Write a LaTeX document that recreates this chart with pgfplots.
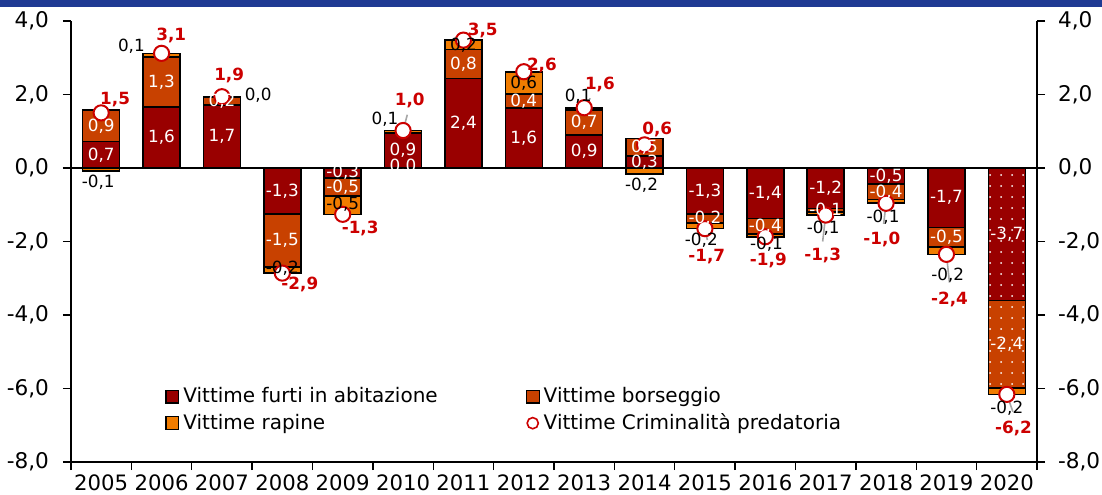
\documentclass[border=0pt]{standalone}
\usepackage{fontspec}
\setmainfont{DejaVu Sans}
\usepackage{pgfplots}
\usepackage{pgfplotstable}
\pgfplotsset{compat=1.18}
\usetikzlibrary{patterns.meta}
\definecolor{Furti}{HTML}{990000}
\definecolor{Borseggio}{HTML}{C84100}
\definecolor{Rapine}{HTML}{F07C00}
\definecolor{Totale}{HTML}{CC0000}
\definecolor{Band}{HTML}{1F3A93}
\definecolor{Leader}{HTML}{A6A6A6}

% positive and negative parts kept apart, so that they stack as in the source
\pgfplotstableread{
x  pF   pB   pR   nF    nB    nR    dF    dB    tot
0  0.72 0.86 0.00 0.00  0.00  -0.08 0     0     1.50
1  1.66 1.36 0.10 0.00  0.00  0.00  0     0     3.12
2  1.72 0.20 0.02 0.00  0.00  0.00  0     0     1.94
3  0.00 0.00 0.00 -1.25 -1.45 -0.16 0     0     -2.86
4  0.00 0.00 0.00 -0.27 -0.49 -0.50 0     0     -1.26
5  0.95 0.00 0.07 0.00  0.00  0.00  0     0     1.02
6  2.44 0.79 0.25 0.00  0.00  0.00  0     0     3.48
7  1.64 0.38 0.60 0.00  0.00  0.00  0     0     2.62
8  0.90 0.68 0.06 0.00  0.00  0.00  0     0     1.64
9  0.32 0.48 0.00 0.00  0.00  -0.17 0     0     0.63
10 0.00 0.00 0.00 -1.25 -0.24 -0.16 0     0     -1.65
11 0.00 0.00 0.00 -1.37 -0.43 -0.07 0     0     -1.87
12 0.00 0.00 0.00 -1.10 -0.10 -0.08 0     0     -1.28
13 0.00 0.00 0.00 -0.44 -0.42 -0.10 0     0     -0.96
14 0.00 0.00 0.00 -1.62 -0.53 -0.20 0     0     -2.35
15 0.00 0.00 0.00 -3.60 -2.38 -0.18 -3.60 -2.38 -6.16
}\bars

% labels inside the bars
\pgfplotstableread{
x  y      t
0  0.36   0,7
0  1.15   0,9
1  0.83   1,6
1  2.34   1,3
2  0.86   1,7
2  1.82   0,2
3  -0.625 -1,3
3  -1.975 -1,5
4  -0.12  -0,3
4  -0.52  -0,5
5  0.48   0,9
5  0.05   0,0
6  1.22   2,4
6  2.835  0,8
7  0.82   1,6
7  1.83   0,4
8  0.45   0,9
8  1.24   0,7
9  0.16   0,3
9  0.56   0,5
10 -0.625 -1,3
10 -1.37  -0,2
11 -0.685 -1,4
11 -1.585 -0,4
12 -0.55  -1,2
12 -1.15  -0,1
13 -0.22  -0,5
13 -0.65  -0,4
14 -0.81  -1,7
14 -1.885 -0,5
15 -1.80  -3,7
15 -4.79  -2,4
}\inlabels

% rapine labels
\pgfplotstableread{
x     y     t
-0.05 -0.38 -0,1
0.50  3.30  0,1
2.60  1.99  0,0
3.00  -2.72 -0,2
4.00  -0.99 -0,5
4.70  1.33  0,1
6.00  3.35  0,2
7.00  2.30  0,6
7.90  1.94  0,1
8.95  -0.46 -0,2
9.94  -1.97 -0,2
11.02 -2.08 -0,1
11.96 -1.64 -0,1
12.95 -1.34 -0,1
14.02 -2.91 -0,2
15.00 -6.54 -0,2
}\rplabels

% total labels
\pgfplotstableread{
x     y     t
0.23  1.85  1,5
1.16  3.62  3,1
2.12  2.53  1,9
3.29  -3.18 -2,9
4.29  -1.64 -1,3
5.11  1.85  1,0
6.32  3.73  3,5
7.30  2.80  2,6
8.26  2.26  1,6
9.21  1.05  0,6
10.03 -2.41 -1,7
11.05 -2.52 -1,9
11.95 -2.39 -1,3
12.93 -1.94 -1,0
14.05 -3.57 -2,4
15.11 -7.08 -6,2
}\totlabels

\pgfplotsset{
  base/.style={
    scale only axis, width=483pt, height=220.5pt,
    at={(35.5pt,16pt)}, anchor=south west,
    xmin=-0.5, xmax=15.5, ymin=-8, ymax=4,
  },
  seg/.style={draw=black, line width=0.8pt},
  ylabs/.style={
    ytick={-8,-6,...,4},
    y tick label style={font=\fontsize{10.8}{13}\selectfont},
    yticklabel style={/pgf/number format/fixed, /pgf/number format/fixed zerofill,
      /pgf/number format/precision=1, /pgf/number format/use comma,
      /pgf/number format/assume math mode=true},
  },
}

\begin{document}
\begin{tikzpicture}
\useasboundingbox (0,0) rectangle (551pt,247pt);
\fill[Band] (0,243.5pt) rectangle (551pt,247pt);

% positive stack + frame
\begin{axis}[base, ylabs,
  ybar stacked, bar width=18.5pt,
  axis y line*=left, axis x line*=bottom,
  axis line style={black, line width=0.7pt},
  tick style={black, line width=0.7pt},
  tick align=outside, major tick length=4pt,
  yticklabel style={xshift=-3.5pt},
  xtick={-0.5,0.5,...,15.5}, xticklabels={},
  extra x ticks={0,...,15},
  extra x tick labels={2005,2006,2007,2008,2009,2010,2011,2012,2013,2014,2015,2016,2017,2018,2019,2020},
  extra x tick style={major tick length=0pt, tick label style={font=\fontsize{10.6}{12}\selectfont, yshift=-2.8pt}},
  extra y ticks={0}, extra y tick labels={},
  extra y tick style={grid=major, major grid style={black, line width=1pt}},
]
\addplot[seg, fill=Furti] table[x=x, y=pF] {\bars};
\addplot[seg, fill=Borseggio] table[x=x, y=pB] {\bars};
\addplot[seg, fill=Rapine] table[x=x, y=pR] {\bars};
\end{axis}

% negative stack
\begin{axis}[base, hide axis, ybar stacked, bar width=18.5pt]
\addplot[seg, fill=Furti] table[x=x, y=nF] {\bars};
\addplot[seg, fill=Borseggio] table[x=x, y=nB] {\bars};
\addplot[seg, fill=Rapine] table[x=x, y=nR] {\bars};
\end{axis}

% dotted 2020
\begin{axis}[base, hide axis, ybar stacked, bar width=18.5pt]
\addplot[draw=none, pattern={Dots[distance=5.5pt, radius=0.5pt]}, pattern color=white] table[x=x, y=dF] {\bars};
\addplot[draw=none, pattern={Dots[distance=5.5pt, radius=0.5pt]}, pattern color=white] table[x=x, y=dB] {\bars};
\end{axis}

% right axis, totals, labels, legend
\begin{axis}[base, ylabs,
  axis y line*=right, axis x line=none,
  axis line style={black, line width=0.7pt},
  tick style={black, line width=0.7pt},
  tick align=outside, major tick length=4pt,
  yticklabel style={xshift=3pt},
  legend columns=2,
  legend cell align=left,
  legend style={at={(0.0973,0.179)}, anchor=north west, draw=none, fill=none,
    font=\fontsize{10}{12}\selectfont, inner sep=0pt,
    /tikz/every even column/.append style={column sep=42pt}},
]
\addplot[Leader, line width=0.8pt, forget plot, unbounded coords=jump] coordinates {
  (5,1.02) (5.07,1.45) (5.1,nan)
  (8,1.64) (8.1,1.9) (8.2,nan)
  (10,-1.65) (10.04,-1.96) (10.1,nan)
  (12,-1.28) (11.95,-2.0) (12.1,nan)
  (13,-0.96) (12.96,-1.52) (13.1,nan)
  (14,-2.35) (14.05,-3.12) (14.1,nan)
  (15,-6.16) (15.1,-6.63)
};
\addlegendimage{legend image code/.code={\draw[fill=Furti, draw=black, line width=0.6pt] (0pt,-3.2pt) rectangle (6.4pt,3.2pt);}}
\addlegendentry{Vittime furti in abitazione}
\addlegendimage{legend image code/.code={\draw[fill=Borseggio, draw=black, line width=0.6pt] (0pt,-3.2pt) rectangle (6.4pt,3.2pt);}}
\addlegendentry{Vittime borseggio}
\addlegendimage{legend image code/.code={\draw[fill=Rapine, draw=black, line width=0.6pt] (0pt,-3.2pt) rectangle (6.4pt,3.2pt);}}
\addlegendentry{Vittime rapine}
\addplot[only marks, mark=*, mark size=3.8pt, mark options={draw=Totale, fill=white, line width=1pt},
  legend image code/.code={\draw[draw=Totale, fill=white, line width=0.8pt] (3.2pt,0pt) circle (2.8pt);}]
  table[x=x, y=tot] {\bars};
\addlegendentry{Vittime Criminalità predatoria}
\addplot[only marks, mark=none, forget plot, point meta=explicit symbolic, nodes near coords,
  every node near coord/.append style={anchor=center, inner sep=0pt, text=white, font=\fontsize{8.4}{10}\selectfont}]
  table[x=x, y=y, meta=t] {\inlabels};
\addplot[only marks, mark=none, forget plot, point meta=explicit symbolic, nodes near coords,
  every node near coord/.append style={anchor=center, inner sep=0pt, text=black, font=\fontsize{8.4}{10}\selectfont}]
  table[x=x, y=y, meta=t] {\rplabels};
\addplot[only marks, mark=none, forget plot, point meta=explicit symbolic, nodes near coords,
  every node near coord/.append style={anchor=center, inner sep=0pt, text=Totale, font=\bfseries\fontsize{8.4}{10}\selectfont}]
  table[x=x, y=y, meta=t] {\totlabels};
\end{axis}
\end{tikzpicture}
\end{document}
